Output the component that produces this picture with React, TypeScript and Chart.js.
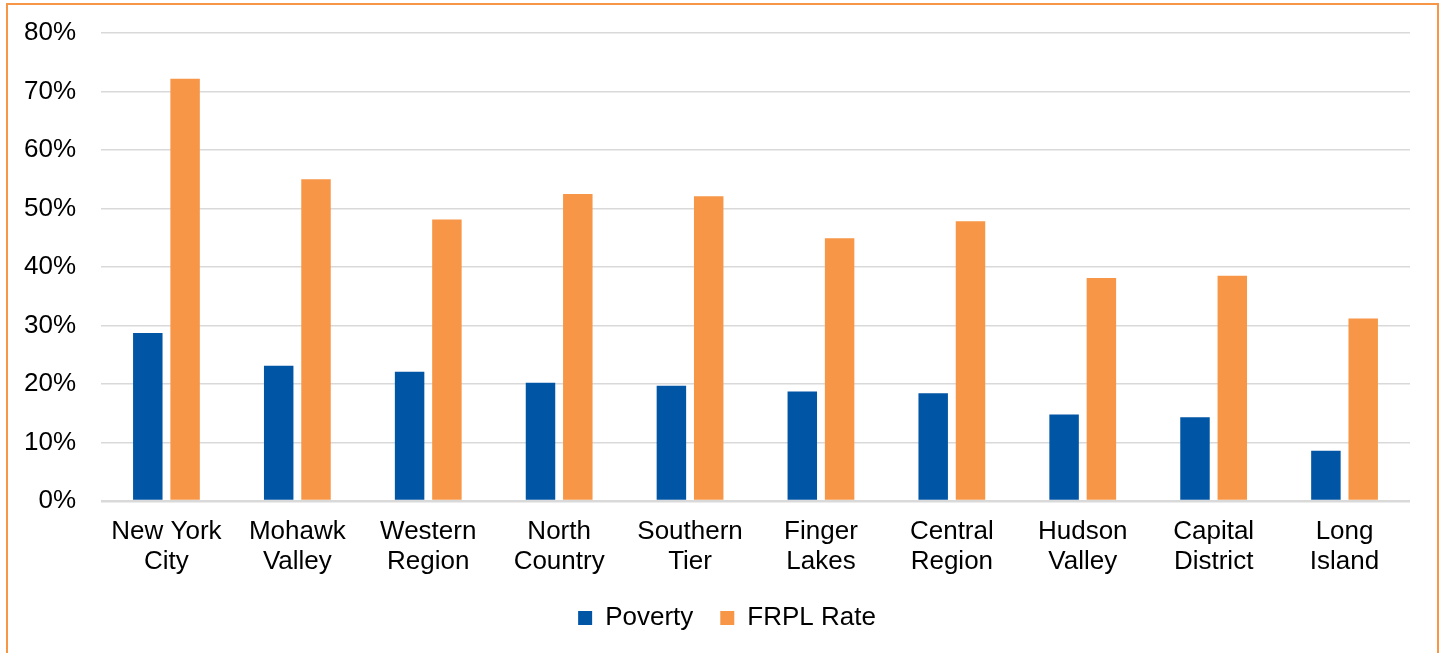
import React, { useEffect, useRef } from "react";
import { Chart, registerables } from "chart.js";

Chart.register(...registerables);

// Regions (two-line axis labels)
const regions: string[][] = [
  ["New York", "City"],
  ["Mohawk", "Valley"],
  ["Western", "Region"],
  ["North", "Country"],
  ["Southern", "Tier"],
  ["Finger", "Lakes"],
  ["Central", "Region"],
  ["Hudson", "Valley"],
  ["Capital", "District"],
  ["Long", "Island"],
];

// Percent of population in poverty
const poverty: number[] = [28.7, 23.1, 22.1, 20.2, 19.7, 18.7, 18.4, 14.8, 14.3, 8.6];

// Free / reduced-price lunch rate
const frplRate: number[] = [72.2, 55.0, 48.1, 52.5, 52.1, 44.9, 47.8, 38.1, 38.5, 31.2];

// Y axis range (percent)
const yMin = 0;
const yMax = 80;
const yStep = 10;

const BLUE = "#0055A5";
const ORANGE = "#F79646";
const GRID = "#D9D9D9";
const FONT = "'Liberation Sans', Arial, sans-serif";

// Center the bottom legend on the whole frame rather than the padded area
const legendShift = {
  id: "legendShift",
  beforeDraw(chart: any) {
    const lg = chart.legend;
    if (lg) {
      lg.left = 44;
      lg.right = 1410;
    }
  },
};

export default function App() {
  const canvasRef = useRef<HTMLCanvasElement | null>(null);

  useEffect(() => {
    const canvas = canvasRef.current;
    if (!canvas) return;

    const chart = new Chart(canvas, {
      type: "bar",
      data: {
        labels: regions,
        datasets: [
          {
            label: "Poverty",
            data: poverty,
            backgroundColor: BLUE,
            borderWidth: 0,
            categoryPercentage: 0.57,
            barPercentage: 0.79,
          },
          {
            label: "FRPL Rate",
            data: frplRate,
            backgroundColor: ORANGE,
            borderWidth: 0,
            categoryPercentage: 0.57,
            barPercentage: 0.79,
          },
        ],
      },
      options: {
        responsive: false,
        animation: false,
        devicePixelRatio: 1,
        layout: { padding: { left: 0, right: 35, top: 33, bottom: 12 } },
        plugins: {
          tooltip: { enabled: false },
          legend: {
            position: "bottom",
            labels: {
              boxWidth: 14,
              boxHeight: 14,
              padding: 27,
              color: "#000",
              font: { family: FONT, size: 26 },
            },
          },
        },
        scales: {
          x: {
            grid: { display: false, drawTicks: false },
            border: { display: false },
            ticks: {
              color: "#000",
              padding: 16,
              maxRotation: 0,
              autoSkip: false,
              font: { family: FONT, size: 26, lineHeight: 1.16 },
            },
            afterFit: (scale: any) => {
              scale.height = 77;
            },
          },
          y: {
            min: yMin,
            max: yMax,
            border: { display: false },
            grid: {
              color: GRID,
              drawTicks: false,
              lineWidth: (ctx: any) => (ctx.tick && ctx.tick.value === 0 ? 2.5 : 1.6),
            },
            ticks: {
              stepSize: yStep,
              color: "#000",
              padding: 25,
              font: { family: FONT, size: 26 },
              callback: (v: any) => `${v}%`,
            },
            afterFit: (scale: any) => {
              scale.width = 101;
              // keep the tick padding from pushing the plot area down
              scale.paddingTop = 16;
              scale.paddingBottom = 16;
            },
          },
        },
      },
      plugins: [legendShift],
    });

    return () => chart.destroy();
  }, []);

  return (
    <div
      style={{
        position: "absolute",
        left: 0,
        top: 0,
        width: 1445,
        height: 653,
        overflow: "hidden",
        background: "#fff",
      }}
    >
      <div
        style={{
          position: "absolute",
          left: 6,
          top: 3,
          width: 1433,
          height: 720,
          boxSizing: "border-box",
          border: `2px solid ${ORANGE}`,
        }}
      />
      <canvas
        ref={canvasRef}
        width={1445}
        height={653}
        style={{ position: "absolute", left: 0, top: 0, width: 1445, height: 653 }}
      />
    </div>
  );
}
